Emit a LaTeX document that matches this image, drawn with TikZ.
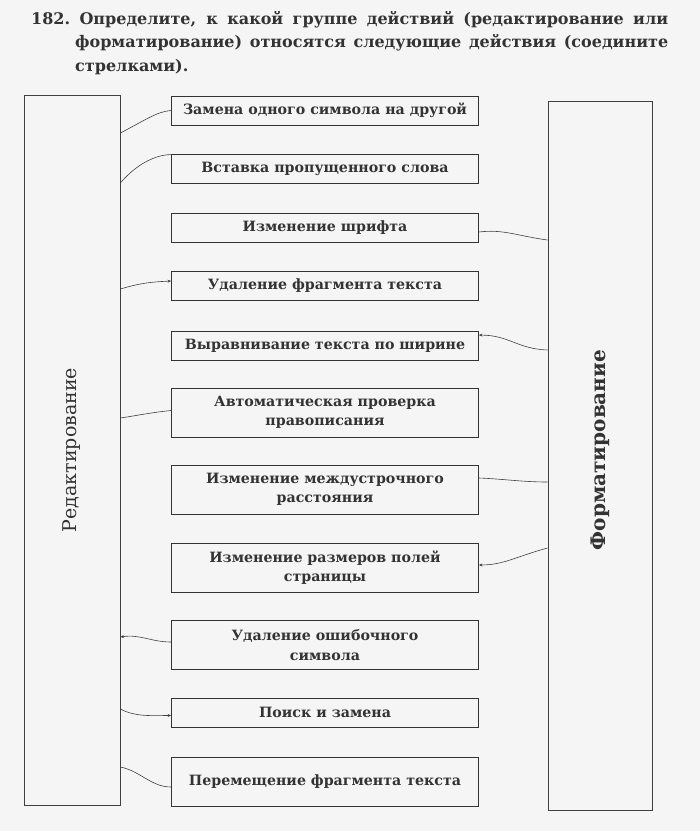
\documentclass[tikz,border=0pt]{standalone}
\usepackage{fontspec}
\setmainfont{DejaVu Serif}
\usepackage{tikz}
\usetikzlibrary{arrows.meta,positioning}
\tikzset{
    paper/.style={fill=black!4},
    ink/.style={black!80},
    task text/.style={ink,inner sep=0pt,text width=637pt,align=justify,font=\bfseries\fontsize{16}{23.5}\selectfont},
    action box/.style={draw=black!75,thick,ink,minimum width=307pt,minimum height=29pt,inner sep=2pt,align=center,font=\bfseries\fontsize{14.2}{19.5}\selectfont},
    action box 2/.style={action box,minimum height=49pt},
    group box/.style={draw=black!75,thick},
    group label/.style={ink,rotate=90,font=\fontsize{19}{22}\selectfont},
    hand/.style={semithick,black!75},
    harr/.style={hand,-{Stealth[length=3.5pt,width=3pt]}},
}

\begin{document}
\begin{tikzpicture}[x=1pt,y=-1pt]
    \fill[paper] (0,0) rectangle (700,831);
    \useasboundingbox (0,0) rectangle (700,831);
    % task
    \node[task text,anchor=north west] (task) at (31,11) {\hangindent=44pt\hangafter=1
        182.\ Определите, к~какой группе действий (редактирование или\linebreak
        форматирование) относятся следующие действия (соедините\linebreak
        стрелками).\par};
    % groups
    \node[group box,minimum width=96pt,minimum height=710pt] (edit) at (72,450) {};
    \node[group label] at (edit) {Редактирование};
    \node[group box,minimum width=104pt,minimum height=709pt] (fmt) at (600,456) {};
    \node[group label,font=\bfseries\fontsize{20}{24}\selectfont] at (600,450) {Форматирование};
    % actions
    \node[action box] (a1) at (325,110.5) {Замена одного символа на другой};
    \node[action box] (a2) at (325,168.5) {Вставка пропущенного слова};
    \node[action box] (a3) at (325,228) {Изменение шрифта};
    \node[action box] (a4) at (325,286) {Удаление фрагмента текста};
    \node[action box] (a5) at (325,346) {Выравнивание текста по ширине};
    \node[action box 2] (a6) at (325,412.5) {Автоматическая проверка\\правописания};
    \node[action box 2] (a7) at (325,489.5) {Изменение междустрочного\\расстояния};
    \node[action box 2] (a8) at (325,567.5) {Изменение размеров полей\\страницы};
    \node[action box 2] (a9) at (325,645) {Удаление ошибочного\\символа};
    \node[action box] (a10) at (325,712.5) {Поиск и замена};
    \node[action box 2] (a11) at (325,782) {Перемещение фрагмента текста};
    % arrows drawn by hand
    \draw[hand] (edit.east |- 0,133) .. controls +(25,-13) and +(-14,1) .. (a1.west);
    \draw[hand] (edit.east |- 0,183) .. controls +(15,-18) and +(-16,0) .. ([yshift=-1pt]a2.north west);
    \draw[hand] (a3.east |- 0,232) .. controls +(25,-3) and +(-30,-4) .. (fmt.west |- 0,240);
    \draw[harr] (edit.east |- 0,289) .. controls +(20,-6) and +(-20,1) .. ([yshift=5pt]a4.west);
    \draw[harr] (fmt.west |- 0,350) .. controls +(-30,-1) and +(30,0) .. ([yshift=-4pt]a5.north east);
    \draw[hand] (edit.east |- 0,418) .. controls +(20,-3) and +(-20,2) .. ([yshift=2pt]a6.west);
    \draw[hand] (a7.east |- 0,478) .. controls +(25,1) and +(-25,0) .. (fmt.west |- 0,482);
    \draw[harr] (fmt.west |- 0,548) .. controls +(-30,8) and +(25,0) .. (a8.east |- 0,565);
    \draw[harr] (a9.west |- 0,642) .. controls +(-20,0) and +(20,-3) .. (edit.east |- 0,637);
    \draw[harr] (edit.east |- 0,709) .. controls +(15,8) and +(-20,0) .. ([yshift=-3pt]a10.west);
    \draw[hand] (edit.east |- 0,767) .. controls +(20,4) and +(-20,0) .. ([yshift=-5pt]a11.west);
\end{tikzpicture}
\end{document}
